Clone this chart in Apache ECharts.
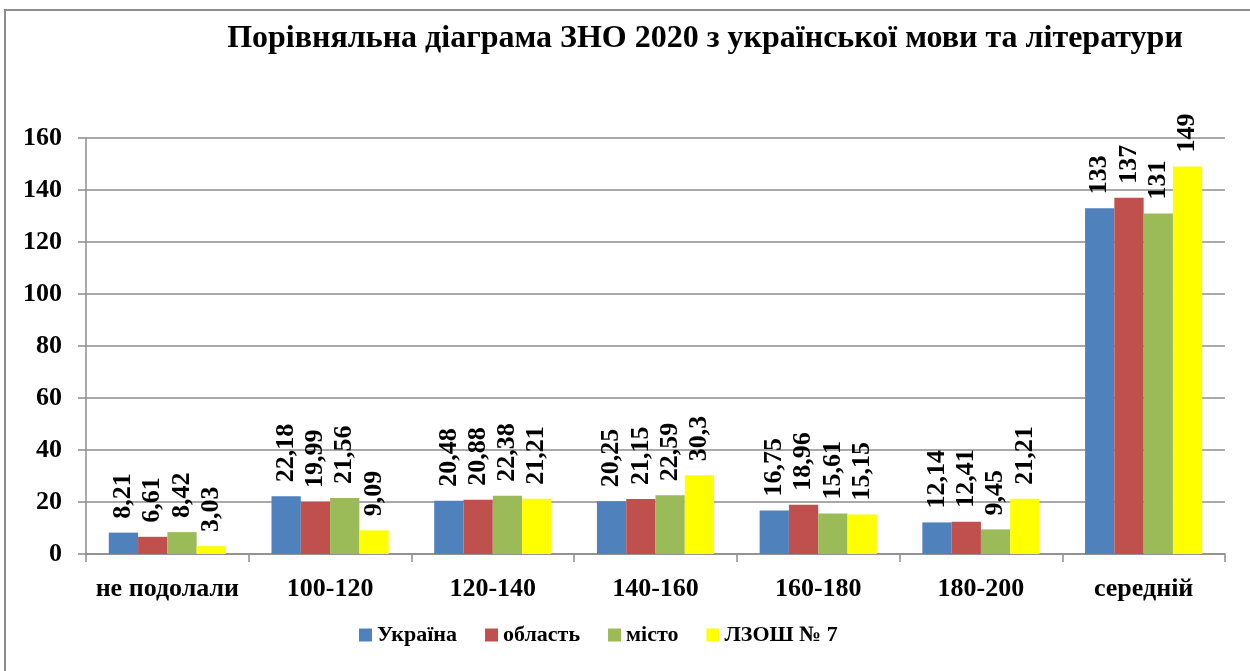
<!DOCTYPE html>
<html>
<head>
<meta charset="utf-8">
<script src="https://cdn.jsdelivr.net/npm/echarts@6/dist/echarts.min.js"></script>
<style>
  html, body { margin: 0; padding: 0; background: #fff; }
  #chart { width: 1250px; height: 671px; }
</style>
</head>
<body>
<div id="chart"></div>
<script>
var categories = ['не подолали', '100-120', '120-140', '140-160', '160-180', '180-200', 'середній'];
var seriesNames = ['Україна', 'область', 'місто', 'ЛЗОШ № 7'];
var ukraine = [8.21, 22.18, 20.48, 20.25, 16.75, 12.14, 133];
var oblast = [6.61, 19.99, 20.88, 21.15, 18.96, 12.41, 137];
var misto = [8.42, 21.56, 22.38, 22.59, 15.61, 9.45, 131];
var school = [3.03, 9.09, 21.21, 30.3, 15.15, 21.21, 149];
var yTicks = [0, 20, 40, 60, 80, 100, 120, 140, 160];

var colors = ['#4F81BD', '#C0504D', '#9BBB59', '#FFFF00'];
var font = '"Liberation Serif", "DejaVu Serif", serif';

var myChart = echarts.init(document.getElementById('chart'));

function makeSeries(name, data, color) {
    return {
        name: name,
        type: 'bar',
        data: data,
        barGap: 0,
        barCategoryGap: '28%',
        itemStyle: { color: color },
        label: {
            show: true,
            position: 'top',
            rotate: 90,
            align: 'left',
            verticalAlign: 'middle',
            distance: 14,
            fontFamily: font,
            fontWeight: 'bold',
            fontSize: 26,
            color: '#000',
            formatter: function (p) {
                return String(p.value).replace('.', ',');
            }
        }
    };
}

var option = {
    animation: false,
    backgroundColor: '#fff',
    color: colors,
    textStyle: { fontFamily: font, fontWeight: 'bold', color: '#000' },
    title: {
        text: 'Порівняльна діаграма ЗНО 2020 з української мови та літератури',
        left: 700,
        textAlign: 'center',
        top: 18,
        textStyle: {
            fontFamily: font,
            fontWeight: 'bold',
            fontSize: 32,
            color: '#000'
        }
    },
    graphic: [{
        type: 'rect',
        shape: { x: 5, y: 10, width: 1270, height: 700 },
        style: { fill: 'none', stroke: '#8c8c8c', lineWidth: 2 },
        z: -1
    }],
    legend: {
        bottom: 20,
        left: 354,
        itemWidth: 13,
        itemHeight: 13,
        itemGap: 28,
        icon: 'rect',
        textStyle: {
            fontFamily: font,
            fontWeight: 'bold',
            fontSize: 22,
            color: '#000'
        },
        data: seriesNames
    },
    grid: {
        left: 86,
        right: 25,
        top: 138,
        bottom: 117,
        containLabel: false
    },
    xAxis: {
        type: 'category',
        data: categories,
        axisLine: { lineStyle: { color: '#8c8c8c', width: 1.5 } },
        axisTick: { show: true, length: 8, lineStyle: { color: '#8c8c8c', width: 1.5 } },
        axisLabel: {
            interval: 0,
            margin: 22,
            fontFamily: font,
            fontWeight: 'bold',
            fontSize: 26,
            color: '#000'
        }
    },
    yAxis: {
        type: 'value',
        min: yTicks[0],
        max: yTicks[yTicks.length - 1],
        interval: 20,
        axisLine: { show: true, lineStyle: { color: '#8c8c8c', width: 1.5 } },
        axisTick: { show: true, length: 8, lineStyle: { color: '#8c8c8c', width: 1.5 } },
        axisLabel: {
            margin: 24,
            fontFamily: font,
            fontWeight: 'bold',
            fontSize: 26,
            color: '#000'
        },
        splitLine: { lineStyle: { color: '#8c8c8c', width: 1.5 } }
    },
    series: [
        makeSeries(seriesNames[0], ukraine, colors[0]),
        makeSeries(seriesNames[1], oblast, colors[1]),
        makeSeries(seriesNames[2], misto, colors[2]),
        makeSeries(seriesNames[3], school, colors[3])
    ]
};

myChart.setOption(option);
window.addEventListener("resize", function () {
    myChart.resize();
});
</script>
</body>
</html>
